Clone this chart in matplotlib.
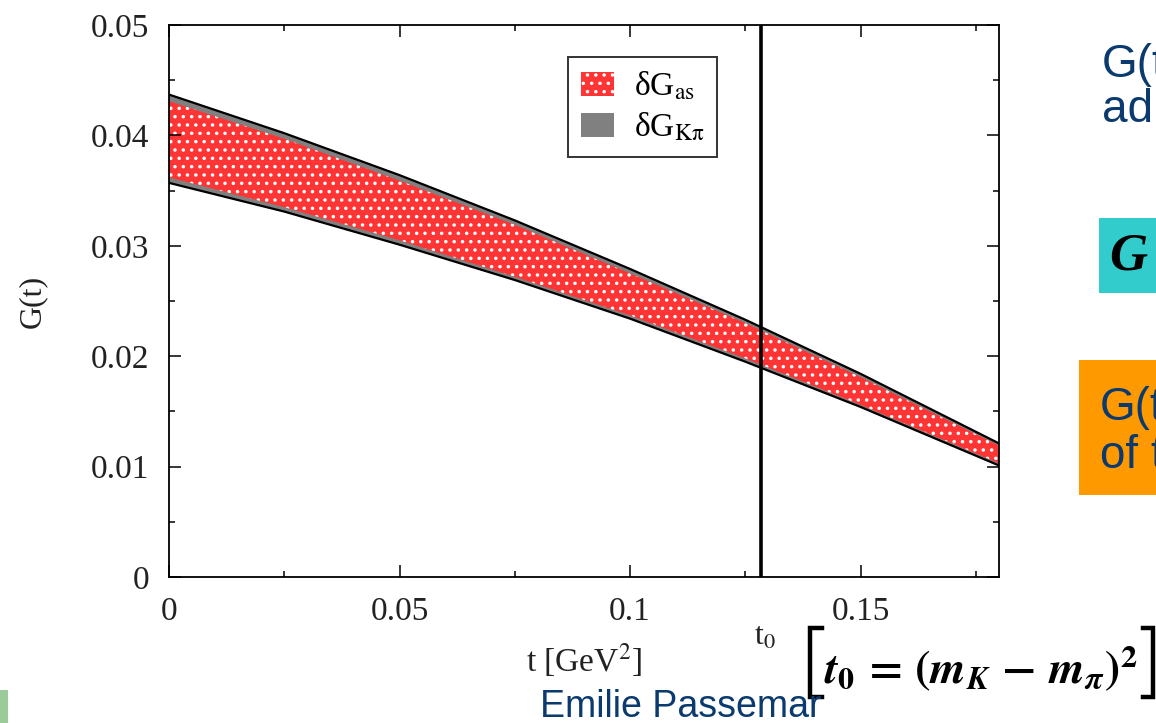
import matplotlib
matplotlib.use("Agg")
import matplotlib.pyplot as plt
from matplotlib.patches import Patch, Rectangle
from matplotlib.lines import Line2D
import matplotlib.ticker as mticker

# ---------------- data ----------------
t_vals = [0.0, 0.025, 0.05, 0.075, 0.10, 0.125, 0.15, 0.18]
# outer envelope (delta G_Kpi) upper / lower
g_outer_hi = [0.0437, 0.0402, 0.0364, 0.0323, 0.0279, 0.0233, 0.0184, 0.0121]
g_outer_lo = [0.0357, 0.0331, 0.0301, 0.0269, 0.0234, 0.0195, 0.0154, 0.0101]
# inner band (delta G_as) upper / lower
g_inner_hi = [0.0431, 0.0397, 0.0359, 0.0319, 0.0275, 0.0230, 0.0181, 0.0119]
g_inner_lo = [0.0362, 0.0335, 0.0305, 0.0272, 0.0237, 0.0198, 0.0156, 0.0103]
t0 = 0.1284

x_ticks = [0, 0.05, 0.1, 0.15]
x_tick_labels = ["0", "0.05", "0.1", "0.15"]
y_ticks = [0, 0.01, 0.02, 0.03, 0.04, 0.05]
y_tick_labels = ["0", "0.01", "0.02", "0.03", "0.04", "0.05"]
legend_labels = ["δG$_{\\rm as}$", "δG$_{\\rm K\\pi}$"]

W, H = 1156, 723
fig = plt.figure(figsize=(W / 100, H / 100), dpi=100)
fig.patch.set_facecolor("white")

def fx(px):
    return px / W

def fy(py):
    return 1 - py / H

ax = fig.add_axes([fx(169), fy(577), fx(999) - fx(169), fy(25) - fy(577)])
serif = ["Liberation Serif", "DejaVu Serif"]
sans = ["Liberation Sans", "DejaVu Sans"]
plt.rcParams["hatch.linewidth"] = 1.3

red = "#ff3535"
gray = "#808080"
txt = "#222222"

# gray outer band
ax.fill_between(t_vals, g_outer_lo, g_outer_hi, facecolor=gray, edgecolor="none", linewidth=0)
# red dotted inner band
ax.fill_between(t_vals, g_inner_lo, g_inner_hi, facecolor=red, edgecolor="white",
                hatch="..", linewidth=0)
ax.plot(t_vals, g_outer_hi, color="black", lw=1.6)
ax.plot(t_vals, g_outer_lo, color="black", lw=1.6)
ax.axvline(t0, color="black", lw=2.6)

ax.set_xlim(0, 0.18)
ax.set_ylim(0, 0.05)
ax.set_xticks(x_ticks)
ax.set_xticklabels(x_tick_labels)
ax.set_yticks(y_ticks)
ax.set_yticklabels(y_tick_labels)
ax.xaxis.set_minor_locator(mticker.MultipleLocator(0.025))
ax.yaxis.set_minor_locator(mticker.MultipleLocator(0.005))
ax.tick_params(which="both", direction="in", top=True, right=True, width=1.1, color="black")
ax.tick_params(which="major", length=8.5)
ax.tick_params(which="minor", length=4.5)
ax.tick_params(axis="x", which="major", pad=14)
ax.tick_params(axis="y", which="major", pad=14)
for lab in ax.get_xticklabels() + ax.get_yticklabels():
    lab.set_fontfamily(serif)
    lab.set_fontsize(24)
    lab.set_color(txt)
for s in ax.spines.values():
    s.set_linewidth(1.3)

fig.text(fx(584), fy(660), "t [GeV$^2$]", ha="center", va="center", fontsize=24,
         family=serif, color=txt, math_fontfamily="stix")
fig.text(fx(32), fy(301), "G(t)", ha="center", va="center", rotation=90, fontsize=23,
         family=serif, color=txt)
fig.text(fx(765), fy(637), "t$_0$", ha="center", va="center", fontsize=23,
         family=serif, color=txt, math_fontfamily="stix")

handles = [Patch(facecolor=red, edgecolor="white", hatch="..", linewidth=0),
           Patch(facecolor=gray, edgecolor="none")]
leg = ax.legend(handles, legend_labels, loc="upper left",
                bbox_to_anchor=(fx(568), fy(57)), bbox_transform=fig.transFigure,
                borderaxespad=0, fancybox=False, frameon=True, edgecolor="black",
                prop={"family": serif, "size": 24, "math_fontfamily": "stix"},
                handlelength=0.97, handleheight=0.75, handletextpad=0.6,
                labelspacing=0.25, borderpad=0.4)
leg.get_frame().set_linewidth(1.4)

# ---------------- slide decorations ----------------
blue = "#0a3a6e"
fig.text(fx(1102), fy(77), "G(t", fontsize=33, family=sans,
         color=blue, ha="left", va="baseline")
fig.text(fx(1102), fy(122), "ad", fontsize=33, family=sans,
         color=blue, ha="left", va="baseline")

fig.patches.append(Rectangle((fx(1099), fy(293)), fx(1156) - fx(1099), fy(218) - fy(293),
                             transform=fig.transFigure, facecolor="#33cccc", edgecolor="none"))
fig.text(fx(1109), fy(270), "G", fontsize=38, family=serif, weight="bold", style="italic",
         color="black", ha="left", va="baseline")

fig.patches.append(Rectangle((fx(1079), fy(495)), fx(1156) - fx(1079), fy(360) - fy(495),
                             transform=fig.transFigure, facecolor="#ff9900", edgecolor="none"))
fig.text(fx(1100), fy(420), "G(t", fontsize=33, family=sans,
         color=blue, ha="left", va="baseline")
fig.text(fx(1100), fy(468), "of t", fontsize=33, family=sans,
         color=blue, ha="left", va="baseline")

fig.patches.append(Rectangle((0, fy(723)), fx(8), fy(690) - fy(723),
                             transform=fig.transFigure, facecolor="#99cc99", edgecolor="none"))

fig.text(fx(540), fy(717), "Emilie Passemar", fontsize=27,
         family=sans, color=blue, ha="left", va="baseline")

fig.text(fx(824), fy(684),
         r"$\mathbfit{t}_{\mathbf{0}}\mathbf{\,=\,(}\mathbfit{m}_{\mathbfit{K}}\mathbf{\,-\,}\mathbfit{m}_{\mathbfit{\pi}}\mathbf{)}^{\mathbf{2}}$",
         fontsize=33, math_fontfamily="stix", color="black", ha="left", va="baseline")
# brackets
for xs, ys in [([822, 810, 810, 822], [628, 628, 697, 697]),
               ([1143, 1153, 1153, 1143], [628, 628, 697, 697])]:
    fig.add_artist(Line2D([fx(v) for v in xs], [fy(v) for v in ys], transform=fig.transFigure,
                          color="black", lw=3.2, solid_joinstyle="miter"))

fig.savefig("out.png", dpi=100)
